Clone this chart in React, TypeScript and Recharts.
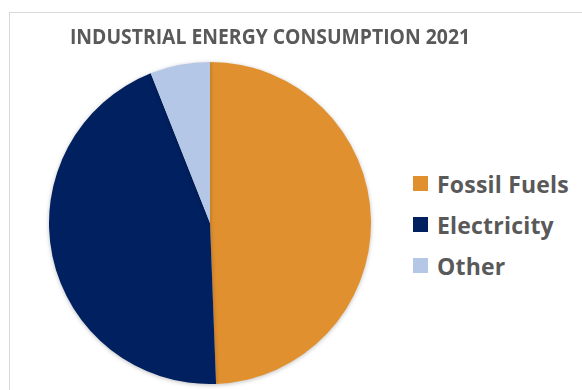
import { Cell, Legend, Pie, PieChart } from 'recharts';

const categories = ['Fossil Fuels', 'Electricity', 'Other'];
const shares = [49.4, 44.6, 6.0];
const colors = ['#E0902F', '#002060', '#B4C7E7'];

const data = categories.map((name, i) => ({ name, value: shares[i] }));

const LegendBox = () => (
  <div style={{ display: 'flex', flexDirection: 'column', gap: 10 }}>
    {categories.map((name, i) => (
      <div key={name} style={{ display: 'flex', alignItems: 'center', height: 31 }}>
        <span
          style={{
            display: 'inline-block',
            width: 15,
            height: 15,
            background: colors[i],
            marginRight: 9,
          }}
        />
        <span
          style={{
            fontSize: 23,
            fontWeight: 700,
            color: '#595959',
            fontFamily: 'Open Sans',
            letterSpacing: 0.2,
          }}
        >
          {name}
        </span>
      </div>
    ))}
  </div>
);

export default function App() {
  return (
    <div
      style={{
        position: 'absolute',
        left: 0,
        top: 0,
        width: 582,
        height: 390,
        overflow: 'hidden',
        background: '#fff',
        fontFamily: 'Open Sans, sans-serif',
      }}
    >
      <div
        style={{
          position: 'absolute',
          left: 9,
          top: 12,
          width: 700,
          height: 500,
          border: '1px solid #d9d9d9',
        }}
      />
      <div
        style={{
          position: 'absolute',
          left: 0,
          top: 20,
          width: 540,
          textAlign: 'center',
          fontSize: 22,
          fontWeight: 700,
          color: '#595959',
          transform: 'scaleX(0.88)',
          transformOrigin: '270px 0',
        }}
      >
        INDUSTRIAL ENERGY CONSUMPTION 2021
      </div>
      <PieChart
        width={582}
        height={390}
        margin={{ top: 0, right: 0, bottom: 0, left: 0 }}
        style={{ position: 'absolute', left: 0, top: 0 }}
      >
        <Pie
          data={data}
          dataKey="value"
          nameKey="name"
          cx={210}
          cy={223}
          outerRadius={161}
          startAngle={90}
          endAngle={-270}
          stroke="none"
          isAnimationActive={false}
          style={{ filter: 'drop-shadow(0px 1px 2px rgba(0,0,0,0.25))' }}
        >
          {data.map((d, i) => (
            <Cell key={d.name} fill={colors[i]} />
          ))}
        </Pie>
        <Legend
          layout="vertical"
          content={<LegendBox />}
          wrapperStyle={{ left: 413, top: 168, width: 170 }}
        />
      </PieChart>
    </div>
  );
}
